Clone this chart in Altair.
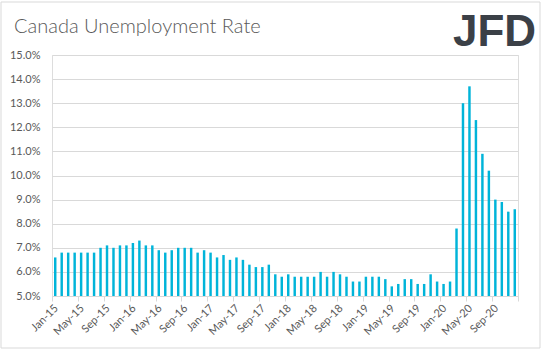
import json
import altair as alt
import pandas as pd

years = ["15", "16", "17", "18", "19", "20"]
month_names = ["Jan", "Feb", "Mar", "Apr", "May", "Jun", "Jul", "Aug", "Sep", "Oct", "Nov", "Dec"]
month_labels = [f"{m}-{y}" for y in years for m in month_names]

rates_2015 = [6.6, 6.8, 6.8, 6.8, 6.8, 6.8, 6.8, 7.0, 7.1, 7.0, 7.1, 7.1]
rates_2016 = [7.2, 7.3, 7.1, 7.1, 6.9, 6.8, 6.9, 7.0, 7.0, 7.0, 6.8, 6.9]
rates_2017 = [6.8, 6.6, 6.7, 6.5, 6.6, 6.5, 6.3, 6.2, 6.2, 6.3, 5.9, 5.8]
rates_2018 = [5.9, 5.8, 5.8, 5.8, 5.8, 6.0, 5.8, 6.0, 5.9, 5.8, 5.6, 5.6]
rates_2019 = [5.8, 5.8, 5.8, 5.7, 5.4, 5.5, 5.7, 5.7, 5.5, 5.5, 5.9, 5.6]
rates_2020 = [5.5, 5.6, 7.8, 13.0, 13.7, 12.3, 10.9, 10.2, 9.0, 8.9, 8.5, 8.6]
rates = rates_2015 + rates_2016 + rates_2017 + rates_2018 + rates_2019 + rates_2020

y_ticks = [5, 6, 7, 8, 9, 10, 11, 12, 13, 14, 15]
x_tick_idx = list(range(0, len(month_labels) + 1, 4))

df = pd.DataFrame({"month": month_labels, "rate": rates, "idx": list(range(len(rates)))})

W, H = 466, 241
GRAY = "#595959"
GRID = "#D9D9D9"
BAR = "#00B4D9"

label_expr = json.dumps(month_labels) + "[datum.value] || ''"

bars = alt.Chart(df).transform_calculate(
    x0="datum.idx + 0.31", x1="datum.idx + 0.69"
).mark_bar(color=BAR).encode(
    x=alt.X("x0:Q", scale=alt.Scale(domain=[0, len(month_labels)], nice=False, zero=False),
            axis=alt.Axis(values=x_tick_idx, labelExpr=label_expr, title=None, grid=False,
                          labelAngle=-45, labelAlign="right", labelBaseline="top",
                          labelPadding=1, tickSize=5, tickColor=GRID, domainColor=GRID,
                          labelColor=GRAY, labelFontSize=11, labelFont="Lato",
                          labelOverlap=False, labelFlush=False, labelBound=False)),
    x2="x1:Q",
    y=alt.Y("rate:Q", scale=alt.Scale(domain=[5, 15], nice=False, zero=False),
            axis=alt.Axis(values=y_ticks, labelExpr="format(datum.value, '.1f') + '%'",
                          title=None, grid=True, gridColor=GRID, domain=False, ticks=False,
                          labelPadding=12, labelColor=GRAY, labelFontSize=11, labelFont="Lato")),
    y2=alt.datum(5),
)

one = pd.DataFrame({"a": [0]})

border = alt.Chart(one).mark_rect(filled=False, stroke=GRID, strokeWidth=1).encode(
    x=alt.value(-51), x2=alt.value(488), y=alt.value(-53), y2=alt.value(293)
)

title = alt.Chart(one).mark_text(
    text="Canada Unemployment Rate", align="left", baseline="alphabetic",
    font="Lato", fontSize=20, color=GRAY, fontWeight=300
).encode(x=alt.value(-38), y=alt.value(-22))

logo = alt.Chart(one).mark_text(
    text="JFD", align="left", baseline="alphabetic",
    font="Liberation Sans", fontSize=44, fontWeight="bold", color="#3B4047"
).encode(x=alt.value(401), y=alt.value(-9))

chart = alt.layer(border, bars, title, logo).properties(
    width=W, height=H,
    autosize=alt.AutoSizeParams(type="none"),
    padding={"left": 52, "top": 55, "right": 25, "bottom": 56},
).configure_view(stroke=None).configure(background="white")

chart.save("out.html", embed_options={"renderer": "svg", "actions": False})
